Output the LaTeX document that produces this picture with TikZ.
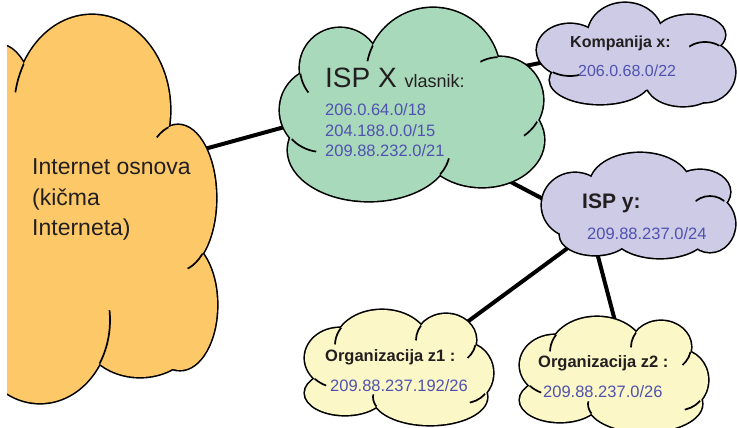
\documentclass[tikz,border=0pt]{standalone}
\usepackage{fontspec}
\setmainfont{Liberation Sans}
\definecolor{orangefill}{HTML}{FDC968}
\definecolor{greenfill}{HTML}{A8D9BA}
\definecolor{purplefill}{HTML}{CDCBE6}
\definecolor{yellowfill}{HTML}{FBF7C6}
\definecolor{ipblue}{HTML}{4F52B0}
\definecolor{txt}{HTML}{231F20}
% cloud = union of ellipses cx/cy/rx/ry
\newcommand{\mycloud}[2]{%
  \foreach \cx/\cy/\rx/\ry in {#2} {\filldraw[fill=#1, draw=black, line width=3.2pt] (\cx,\cy) ellipse [x radius=\rx, y radius=\ry];}%
  \foreach \cx/\cy/\rx/\ry in {#2} {\fill[#1] (\cx,\cy) ellipse [x radius=\rx, y radius=\ry];}%
}
% wrinkles: outline of ellipse E drawn inside ellipse N, near point P
\newcommand{\wrinkles}[1]{%
  \foreach \Na/\Nb/\Nc/\Nd/\Pa/\Pb/\Pc/\Ea/\Eb/\Ec/\Ed in {#1} {%
    \begin{scope}
      \clip (\Na,\Nb) ellipse [x radius=\Nc, y radius=\Nd];
      \clip (\Pa,\Pb) circle [radius=\Pc];
      \draw[wrinkle] (\Ea,\Eb) ellipse [x radius=\Ec, y radius=\Ed];
    \end{scope}}%
}
\tikzset{
  link/.style={line width=4pt, black},
  wrinkle/.style={line width=1.7pt, black},
  lbl/.style={anchor=base west, inner sep=0pt, text=txt},
  ip/.style={anchor=base west, inner sep=0pt, text=ipblue, font=\fontsize{16.5}{20}\selectfont},
}
\begin{document}
\begin{tikzpicture}[x=1pt,y=-1pt]
\useasboundingbox (0,0) rectangle (737,428);
% anchors for connectors (inside the clouds)
\coordinate (oc) at (150,164);
\coordinate (gcl) at (350,109);
\coordinate (gcr) at (500,71);
\coordinate (kc) at (580,55);
\coordinate (gcb) at (490,171);
\coordinate (ycA) at (600,229);
\coordinate (ycB) at (580,239);
\coordinate (ycC) at (595,245);
\coordinate (z1c) at (440,342);
\coordinate (z2c) at (620,340);
\draw[link] (oc) -- (gcl);
\draw[link] (gcr) -- (kc);
\draw[link] (gcb) -- (ycA);
\draw[link] (ycB) -- (z1c);
\draw[link] (ycC) -- (z2c);
% orange cloud (Internet backbone)
\begin{scope}
\clip (7,0) rectangle (737,428);
\mycloud{orangefill}{92/110/78/95, 178/198/38/73, 180/305/37/65, 140/322/62/55, 40/320/70/83, 0/140/40/95, 100/220/95/130}
\wrinkles{0/140/40/95/20/75/18/92/110/78/95,
          92/110/78/95/163/131/9/178/198/38/73,
          180/305/37/65/196/260/12/178/198/38/73,
          140/322/62/55/106/338/28/40/320/70/83}
\end{scope}
% green cloud (ISP X)
\mycloud{greenfill}{433/75/67/67, 340/68/40/40, 322/110/42/42, 369/150/81/51, 482/140/62/47, 500/100/43/43, 415/110/110/65}
\wrinkles{322/110/42/42/303/82/12/340/68/40/40,
          340/68/40/40/371/52/10/433/75/67/67,
          433/75/67/67/490/60/10/500/100/43/43,
          482/140/62/47/532/130/10/500/100/43/43,
          369/150/81/51/303/147/14/322/110/42/42,
          482/140/62/47/446/172/14/369/150/81/51}
% Kompanija x
\mycloud{purplefill}{570/50/33/26, 625/35/37/32, 690/35/35/20, 705/72/30/30, 683/82/37/24, 600/80/50/24, 635/60/70/30}
\wrinkles{690/35/35/20/705/44/16/705/72/30/30,
          600/80/50/24/565/73/14/570/50/33/26}
% ISP y
\mycloud{purplefill}{575/205/33/32, 640/185/50/32, 700/192/30/22, 710/224/25/28, 660/232/48/26, 595/235/35/20, 640/210/70/30}
\wrinkles{700/192/30/22/710/197/15/710/224/25/28}
% Organizacija z1 and z2 (same cloud outline)
\foreach \sx/\sy in {0/0, 215/7} {
\begin{scope}[shift={(\sx,\sy)}]
\mycloud{yellowfill}{340/358/35/30, 382/345/47/35, 446/340/30/26, 465/373/28/30, 430/397/57/28, 345/393/40/22, 400/375/80/30}
\wrinkles{340/358/35/30/338/334/11/382/345/47/35,
          382/345/47/35/419/332/9/446/340/30/26,
          465/373/28/30/473/351/9/446/340/30/26,
          430/397/57/28/478/399/9/465/373/28/30,
          345/393/40/22/375/401/7/430/397/57/28,
          345/393/40/22/318/382/9/340/358/35/30}
\end{scope}}
% texts
\node[lbl, font=\fontsize{23}{30}\selectfont] (t1) at (32,175) {Internet osnova};
\node[lbl, font=\fontsize{23}{30}\selectfont] (t2) at (32,205) {(kičma};
\node[lbl, font=\fontsize{23}{30}\selectfont] (t3) at (32,235) {Interneta)};
\node[lbl] (ispx) at (325,88) {\fontsize{28}{30}\selectfont ISP X \fontsize{18}{20}\selectfont vlasnik:};
\node[ip] (g1) at (325,116) {206.0.64.0/18};
\node[ip] (g2) at (325,136) {204.188.0.0/15};
\node[ip] (g3) at (325,156) {209.88.232.0/21};
\node[lbl, font=\fontsize{16}{18}\selectfont\bfseries] (kx) at (570,48) {Kompanija x:};
\node[ip, font=\fontsize{16}{18}\selectfont] (kip) at (578,77) {206.0.68.0/22};
\node[lbl, font=\fontsize{21}{24}\selectfont\bfseries] (ispy) at (582,208) {ISP y:};
\node[ip] (yip) at (587,239) {209.88.237.0/24};
\node[lbl, font=\fontsize{16.5}{18}\selectfont\bfseries] (z1t) at (325,361) {Organizacija z1 :};
\node[ip] (z1ip) at (330,391) {209.88.237.192/26};
\node[lbl, font=\fontsize{16.5}{18}\selectfont\bfseries] (z2t) at (538,367) {Organizacija z2 :};
\node[ip] (z2ip) at (543,397) {209.88.237.0/26};
\end{tikzpicture}
\end{document}
